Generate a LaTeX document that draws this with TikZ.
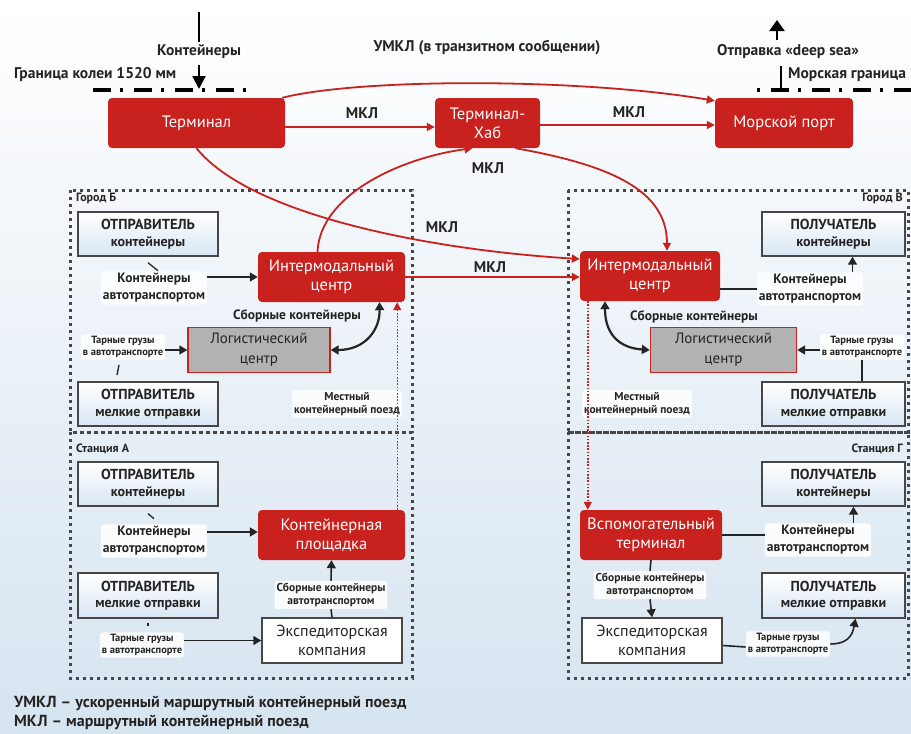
\documentclass[tikz,border=0pt]{standalone}
\usepackage{fontspec}
\setmainfont{PT Sans}
\usetikzlibrary{arrows.meta,calc}
\definecolor{redA}{HTML}{C9211E}
\definecolor{bgB}{HTML}{D6E4F0}
\definecolor{boxB}{HTML}{D8E6F2}
\definecolor{txt}{HTML}{242424}
\definecolor{dotc}{HTML}{474747}
\tikzset{
  redbox/.style={fill=redA, rounded corners=4pt, text=white, inner sep=2pt, align=center,
     font=\fontsize{16.5}{19}\selectfont},
  wbox/.style={draw=dotc, line width=1.4pt, top color=white, bottom color=boxB, inner sep=2pt,
     align=center, text=txt, font=\bfseries\fontsize{14}{16.5}\selectfont},
  expbox/.style={draw=dotc, line width=1.4pt, fill=white, inner sep=2pt,
     align=center, text=txt, font=\fontsize{16}{19}\selectfont},
  gbox/.style={draw=redA, line width=1.4pt, fill=gray!60, inner sep=2pt,
     align=center, text=txt, font=\fontsize{15}{20}\selectfont},
  lab/.style={text=txt, align=center, inner sep=1pt, font=\bfseries\fontsize{15.5}{17}\selectfont},
  clab/.style={lab, font=\bfseries\fontsize{12}{14}\selectfont},
  wlab/.style={lab, fill=white, fill opacity=0.85, text opacity=1, rounded corners=3pt, inner sep=2pt,
     font=\bfseries\fontsize{13.5}{17}\selectfont},
  mlab/.style={wlab, font=\bfseries\fontsize{11.5}{13.5}\selectfont},
  slab/.style={wlab, font=\bfseries\fontsize{10.5}{12}\selectfont},
  area/.style={draw=dotc, line width=3pt, dash pattern=on 3pt off 4pt},
  rarr/.style={draw=redA, line width=1.8pt, -{Triangle[length=8pt,width=8pt]}},
  rdot/.style={draw=redA, line width=1.4pt, dash pattern=on 1.6pt off 1.6pt, -{Triangle[length=8pt,width=8pt]}},
  barr/.style={draw=txt, line width=1.6pt, -{Triangle[length=8pt,width=9pt]}},
  bline/.style={draw=txt, line width=1.6pt},
  dbarr/.style={draw=txt, line width=2.2pt, {Triangle[length=8pt,width=9pt]}-{Triangle[length=8pt,width=9pt]}},
  borderL/.style={draw=black, line width=3.5pt, dash pattern=on 18pt off 9pt on 3pt off 11pt},
  borderR/.style={draw=black, line width=3.5pt, dash pattern=on 3pt off 11pt on 18pt off 9pt},
}
\newcommand{\hdr}[2]{{\fontsize{14.5}{17}\selectfont #1}\\#2}
\begin{document}
\begin{tikzpicture}[x=1pt,y=-1pt]
\useasboundingbox (0,0) rectangle (911,734);
\fill[top color=white, bottom color=bgB] (0,0) rectangle (911,734);

% areas
\draw[area] (70,190) rectangle (412,432);
\draw[area] (70,432) rectangle (412,678);
\draw[area] (568,190) rectangle (908,432);
\draw[area] (568,432) rectangle (908,678);
\node[clab, anchor=north west] (gB) at (75,192) {Город Б};
\node[clab, anchor=north east] (gV) at (904,192) {Город В};
\node[clab, anchor=north west] (stA) at (75,443) {Станция А};
\node[clab, anchor=north east] (stG) at (904,443) {Станция Г};

% top row
\node[redbox, minimum width=177pt, minimum height=50pt] (term) at (196.5,123) {Терминал};
\node[redbox, minimum width=105pt, minimum height=50pt] (hub) at (487.5,123) {Терминал-\\Хаб};
\node[redbox, minimum width=138pt, minimum height=50pt] (port) at (784,123) {Морской порт};

% top labels and borders
\node[lab] (kont) at (199,52) {Контейнеры};
\node[lab, anchor=west] (gran) at (13,75) {Граница колеи 1520 мм};
\node[lab] (umkl) at (487,48) {УМКЛ (в транзитном сообщении)};
\node[lab] (deep) at (788,52) {Отправка «deep sea»};
\node[lab, anchor=west] (sea) at (787,75) {Морская граница};
\coordinate (k0) at (199,12);
\coordinate (k1) at (199,65);
\coordinate (k2) at (199,89);
\draw[line width=2.2pt] (k0) -- ([shift={(0,-2)}]kont.north);
\draw[line width=2.2pt, -{Triangle[length=13pt,width=13pt]}] (k1) -- (k2);
\coordinate (b1) at (93,90); \coordinate (b2) at (246,90);
\draw[borderL] (b1) -- (b2);
\coordinate (d0) at (777,40); \coordinate (d1) at (777,20);
\draw[line width=2.2pt, -{Triangle[length=11pt,width=15pt]}] (d0) -- (d1);
\coordinate (s0) at (781,66); \coordinate (s1) at (781,89);
\draw[line width=2.4pt] (s0) -- (s1);
\coordinate (b3) at (757,90); \coordinate (b4) at (911,90);
\draw[borderR] (b3) -- (b4);

% city B
\node[wbox, minimum width=140pt, minimum height=44pt] (sBc) at (148,234) {\hdr{ОТПРАВИТЕЛЬ}{контейнеры}};
\node[redbox, minimum width=147pt, minimum height=50pt] (imB) at (331.5,277) {Интермодальный\\центр};
\node[gbox, minimum width=142pt, minimum height=45pt] (logB) at (259,350) {Логистический\\центр};
\node[wbox, minimum width=140pt, minimum height=44pt] (sBm) at (148,404) {\hdr{ОТПРАВИТЕЛЬ}{мелкие отправки}};
\node[wlab] (ctB) at (154,288) {Контейнеры\\автотранспортом};
\node[lab, font=\bfseries\fontsize{13.5}{16}\selectfont] (sbB) at (297,316) {Сборные контейнеры};
\node[slab] (tgB) at (123,347) {Тарные грузы\\в автотранспорте};
\node[mlab] (mestB) at (347,404) {Местный\\контейнерный поезд};

% city V
\node[redbox, minimum width=140pt, minimum height=50pt] (imV) at (650,276) {Интермодальный\\центр};
\node[wbox, minimum width=143pt, minimum height=44pt] (rVc) at (833.5,234) {\hdr{ПОЛУЧАТЕЛЬ}{контейнеры}};
\node[gbox, minimum width=146pt, minimum height=45pt] (logV) at (723.5,350) {Логистический\\центр};
\node[wbox, minimum width=143pt, minimum height=44pt] (rVm) at (833.5,404) {\hdr{ПОЛУЧАТЕЛЬ}{мелкие отправки}};
\node[wlab] (ctV) at (810,289) {Контейнеры\\автотранспортом};
\node[lab, font=\bfseries\fontsize{13.5}{16}\selectfont] (sbV) at (694,317) {Сборные контейнеры};
\node[slab] (tgV) at (862,347) {Тарные грузы\\в автотранспорте};
\node[mlab] (mestV) at (637,404) {Местный\\контейнерный поезд};

% station A
\node[wbox, minimum width=140pt, minimum height=44pt] (sAc) at (148,484) {\hdr{ОТПРАВИТЕЛЬ}{контейнеры}};
\node[redbox, minimum width=147pt, minimum height=50pt] (pad) at (331.5,535) {Контейнерная\\площадка};
\node[wbox, minimum width=140pt, minimum height=45pt] (sAm) at (148,595.5) {\hdr{ОТПРАВИТЕЛЬ}{мелкие отправки}};
\node[expbox, minimum width=140pt, minimum height=45pt] (expA) at (332,640.5) {Экспедиторская\\компания};
\node[wlab] (ctA) at (154,541) {Контейнеры\\автотранспортом};
\node[slab] (tgA) at (142,645) {Тарные грузы\\в автотранспорте};
\node[mlab] (sbA) at (331,595) {Сборные контейнеры\\автотранспортом};

% station G
\node[wbox, minimum width=143pt, minimum height=44pt] (rGc) at (833.5,484) {\hdr{ПОЛУЧАТЕЛЬ}{контейнеры}};
\node[redbox, minimum width=142pt, minimum height=50pt] (aux) at (651,535) {Вспомогательный\\терминал};
\node[wbox, minimum width=143pt, minimum height=45pt] (rGm) at (833.5,595.5) {\hdr{ПОЛУЧАТЕЛЬ}{мелкие отправки}};
\node[expbox, minimum width=140pt, minimum height=45pt] (expG) at (652,640.5) {Экспедиторская\\компания};
\node[wlab] (ctG) at (818,540) {Контейнеры\\автотранспортом};
\node[mlab] (sbG) at (650,585) {Сборные контейнеры\\автотранспортом};
\node[slab] (tgG) at (788,644) {Тарные грузы\\в автотранспорте};

% MKL labels
\node[lab] (m1) at (362,113) {МКЛ};
\node[lab] (m2) at (629,112) {МКЛ};
\node[lab] (m3) at (488,168) {МКЛ};
\node[lab] (m4) at (442,227) {МКЛ};
\node[lab] (m5) at (490,267) {МКЛ};

% red connectors
\draw[rarr] ([shift={(-3,0)}]term.north east) .. controls (360,78) and (580,78) .. ([shift={(0,3)}]port.north west);
\draw[rarr] ([shift={(0,4)}]term.east) -- ([shift={(0,4)}]hub.west);
\draw[rarr] ([shift={(0,2)}]hub.east) -- ([shift={(0,2)}]port.west);
\draw[rarr] ([shift={(-14,0)}]imB.north) .. controls (320,195) and (400,158) .. ([shift={(-15,0)}]hub.south);
\draw[rarr] (term.south) .. controls (250,215) and (430,250) .. ([shift={(0,-17)}]imV.west);
\draw[rarr] (imB.east) -- (imB.east -| imV.west);
\draw[rarr] ([shift={(28,0)}]hub.south) .. controls (610,165) and (667,190) .. ([shift={(17,0)}]imV.north);
\draw[rdot] ([shift={(-8,0)}]pad.north east) -- ([shift={(-8,0)}]imB.south east);
\draw[rdot] ([shift={(8,0)}]imV.south west) -- ([shift={(8,0)}]aux.north west);

% black connectors city B
\draw[barr] (ctB.east |- imB.west) -- (imB.west);
\draw[bline, line width=1.3pt] ([shift={(0,6)}]sBc.south) -- ([shift={(10,14)}]sBc.south);
\draw[barr] (tgB.east |- logB.west) -- (logB.west);
\draw[bline, line width=1.3pt] ([shift={(-4,5)}]tgB.south) -- ([shift={(-6,15)}]tgB.south);
\draw[dbarr] (logB.east) .. controls (365,350) and (380,330) .. ([shift={(48,0)}]imB.south);

% city V
\draw[bline] (imV.east |- ctV.west) -- (ctV.west);
\draw[barr] ([shift={(19,0)}]rVc.south |- ctV.north) -- ([shift={(19,0)}]rVc.south);
\draw[dbarr] ([shift={(-45,0)}]imV.south) .. controls (605,335) and (620,348) .. (logV.west);
\draw[barr] (tgV.west |- logV.east) -- (logV.east);
\draw[bline] (tgV.south) -- (tgV.south |- rVm.north);

% station A
\draw[barr] ([shift={(0,-3)}]ctA.east |- pad.west) -- ([shift={(0,-3)}]pad.west);
\draw[bline, line width=1.3pt] ([shift={(0,7)}]sAc.south) -- ([shift={(6,12)}]sAc.south);
\draw[bline, line width=1.3pt] ([shift={(0,4)}]sAm.south) -- ([shift={(0,7)}]sAm.south);
\draw[barr] (tgA.east |- expA.west) -- (expA.west);
\draw[bline] (expA.north) -- (sbA.south);
\draw[barr] (sbA.north) -- (pad.south);

% station G
\draw[bline] (aux.east) -- (aux.east -| ctG.west);
\draw[barr] ([shift={(20,0)}]rGc.south |- ctG.north) -- ([shift={(20,0)}]rGc.south);
\draw[bline] (aux.south) -- (sbG.north);
\draw[barr] (sbG.south) -- (expG.north);
\draw[bline] ([shift={(0,5)}]expG.east) -- ([shift={(0,3)}]tgG.west);
\draw[barr] (tgG.east) .. controls (845,644) and (852,638) .. ([shift={(22,0)}]rGm.south);

% legend
\node[lab, anchor=west, font=\bfseries\fontsize{16}{18}\selectfont] (leg1) at (13,703) {УМКЛ – ускоренный маршрутный контейнерный поезд};
\node[lab, anchor=west, font=\bfseries\fontsize{16}{18}\selectfont] (leg2) at (13,722) {МКЛ – маршрутный контейнерный поезд};
\end{tikzpicture}
\end{document}
